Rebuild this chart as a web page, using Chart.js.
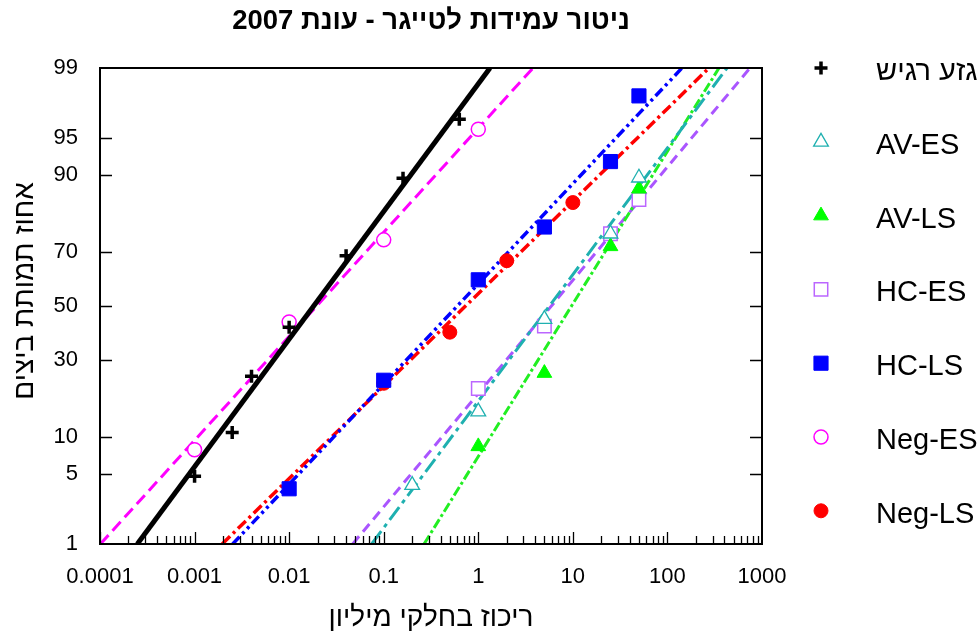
<!DOCTYPE html>
<html lang="he">
<head>
<meta charset="utf-8">
<title>ניטור עמידות לטייגר - עונת 2007</title>
<script src="https://cdn.jsdelivr.net/npm/chart.js@4/dist/chart.umd.min.js"></script>
<style>
  html, body { margin: 0; padding: 0; background: #fff; }
  canvas { display: block; }
</style>
</head>
<body>
<canvas id="chart" width="980" height="635"></canvas>
<script>
// ---- data: concentration (ppm) and egg mortality (%) per population ----
const seriesNames = ['גזע רגיש', 'AV-ES', 'AV-LS', 'HC-ES', 'HC-LS', 'Neg-ES', 'Neg-LS'];

const sensConc  = [0.001, 0.0025, 0.004, 0.01, 0.04, 0.16, 0.63];
const sensMort  = [4.8, 10.8, 24.6, 41.8, 68.8, 89.4, 96.6];
const avEsConc  = [0.2, 1, 5, 25, 50];
const avEsMort  = [4.0, 15.1, 44.9, 76, 89.5];
const avLsConc  = [1, 5, 25, 50];
const avLsMort  = [8.5, 25.6, 72, 87.4];
const hcEsConc  = [1, 5, 25, 50];
const hcEsMort  = [21, 42.2, 76, 85.1];
const hcLsConc  = [0.01, 0.1, 1, 5, 25, 50];
const hcLsMort  = [3.7, 23.4, 60.1, 78, 92.1, 98.0];
const negEsConc = [0.001, 0.01, 0.1, 1];
const negEsMort = [8.0, 43.8, 74.1, 95.8];
const negLsConc = [0.1, 0.5, 2, 10];
const negLsMort = [22.5, 39.9, 67.1, 84.4];

// fitted probit lines: concentration giving 1% and 99% mortality
const fitLc1  = [2.48e-4, 0.0746, 0.267, 0.047, 2.53e-3, 1.01e-4, 1.96e-3];
const fitLc99 = [1.33, 427, 351, 747, 142.6, 3.79, 275];

// axis ticks
const xTickValues = [0.0001, 0.001, 0.01, 0.1, 1, 10, 100, 1000];
const xTickLabels = ['0.0001', '0.001', '0.01', '0.1', '1', '10', '100', '1000'];
const yTickPercents = [1, 5, 10, 30, 50, 70, 90, 95, 99];
const yTickLabels = ['1', '5', '10', '30', '50', '70', '90', '95', '99'];

// ---- inverse normal CDF (probit scale) ----
function probit(p) {
  const a = [-3.969683028665376e+01, 2.209460984245205e+02, -2.759285104469687e+02, 1.383577518672690e+02, -3.066479806614716e+01, 2.506628277459239e+00];
  const b = [-5.447609879822406e+01, 1.615858368580409e+02, -1.556989798598866e+02, 6.680131188771972e+01, -1.328068155288572e+01];
  const c = [-7.784894002430293e-03, -3.223964580411365e-01, -2.400758277161838e+00, -2.549732539343734e+00, 4.374664141464968e+00, 2.938163982698783e+00];
  const d = [7.784695709041462e-03, 3.224671290700398e-01, 2.445134137142996e+00, 3.754408661907416e+00];
  const pl = 0.02425, ph = 1 - pl;
  let q, r;
  if (p < pl) {
    q = Math.sqrt(-2 * Math.log(p));
    return (((((c[0]*q+c[1])*q+c[2])*q+c[3])*q+c[4])*q+c[5]) / ((((d[0]*q+d[1])*q+d[2])*q+d[3])*q+1);
  }
  if (p <= ph) {
    q = p - 0.5; r = q * q;
    return (((((a[0]*r+a[1])*r+a[2])*r+a[3])*r+a[4])*r+a[5])*q / (((((b[0]*r+b[1])*r+b[2])*r+b[3])*r+b[4])*r+1);
  }
  q = Math.sqrt(-2 * Math.log(1 - p));
  return -(((((c[0]*q+c[1])*q+c[2])*q+c[3])*q+c[4])*q+c[5]) / ((((d[0]*q+d[1])*q+d[2])*q+d[3])*q+1);
}
const zOf = pct => probit(pct / 100);

const FONT = "'Liberation Sans', Arial, Helvetica, sans-serif";

// marker + line styling per population
const styles = [
  { color: '#000000', fill: '#000000', pointStyle: 'cross',    radius: 6.5, pBorder: 3.5, lineWidth: 5,   dash: [] },
  { color: '#1FB0B0', fill: '#FFFFFF', pointStyle: 'triangle', radius: 8.5, pBorder: 1.3, lineWidth: 3,   dash: [16, 5, 4, 5] },
  { color: '#22EE22', fill: '#00FF00', pointStyle: 'triangle', radius: 8.5, pBorder: 1,   lineWidth: 3,   dash: [10, 3, 3, 3], pointColor: '#00FF00' },
  { color: '#AA55FF', fill: '#FFFFFF', pointStyle: 'rect',     radius: 9.5, pBorder: 1.5, lineWidth: 3,   dash: [10, 6], pointColor: '#BB66FF' },
  { color: '#0000FF', fill: '#0000FF', pointStyle: 'rect',     radius: 10,  pBorder: 1,   lineWidth: 3.5, dash: [10, 4, 3, 4, 3, 4] },
  { color: '#FF00FF', fill: '#FFFFFF', pointStyle: 'circle',   radius: 7,   pBorder: 1.5, lineWidth: 3,   dash: [12, 6] },
  { color: '#FF0000', fill: '#FF0000', pointStyle: 'circle',   radius: 7,   pBorder: 1,   lineWidth: 3.5, dash: [11, 4, 3, 4] }
];

const concs = [sensConc, avEsConc, avLsConc, hcEsConc, hcLsConc, negEsConc, negLsConc];
const morts = [sensMort, avEsMort, avLsMort, hcEsMort, hcLsMort, negEsMort, negLsMort];

const datasets = [];
seriesNames.forEach((name, i) => {
  const st = styles[i];
  // fitted probit line
  datasets.push({
    label: name + ' fit',
    data: [{ x: fitLc1[i], y: zOf(1) }, { x: fitLc99[i], y: zOf(99) }],
    showLine: true,
    borderColor: st.color,
    borderWidth: st.lineWidth,
    borderDash: st.dash,
    pointRadius: 0,
    fill: false,
    order: 2,
    clip: 0
  });
  // observed points
  datasets.push({
    label: name,
    data: concs[i].map((c, k) => ({ x: c, y: zOf(morts[i][k]) })),
    showLine: false,
    pointStyle: st.pointStyle,
    pointRadius: st.radius,
    pointBorderWidth: st.pBorder,
    pointBorderColor: st.pointColor || st.color,
    pointBackgroundColor: st.fill,
    order: 1,
    clip: false
  });
});

// frame, inward tick marks, title, y-axis title and legend
const decorations = {
  id: 'decorations',
  afterDraw(chart) {
    const { ctx, chartArea: a, scales: { x, y } } = chart;
    ctx.save();
    ctx.strokeStyle = '#000';

    // y ticks on both sides
    ctx.lineWidth = 1.5;
    yTickPercents.slice(1, -1).forEach(p => {
      const py = Math.round(y.getPixelForValue(zOf(p))) + 0.5;
      ctx.beginPath();
      ctx.moveTo(a.left, py); ctx.lineTo(a.left + 12, py);
      ctx.moveTo(a.right, py); ctx.lineTo(a.right - 12, py);
      ctx.stroke();
    });

    // x ticks: decades and 2..9 minors along the bottom
    ctx.lineWidth = 1.3;
    for (let e = -4; e < 3; e++) {
      for (let m = 1; m <= 9; m++) {
        const v = m * Math.pow(10, e);
        const px = Math.round(x.getPixelForValue(v)) + 0.5;
        const len = m === 1 ? 12 : 8;
        ctx.beginPath();
        ctx.moveTo(px, a.bottom); ctx.lineTo(px, a.bottom - len);
        ctx.stroke();
      }
    }

    // plot frame
    ctx.lineWidth = 2;
    ctx.strokeRect(a.left, a.top, a.right - a.left, a.bottom - a.top);

    // chart title
    ctx.fillStyle = '#000';
    ctx.font = "bold 27.5px " + FONT;
    ctx.textAlign = 'center';
    ctx.textBaseline = 'middle';
    ctx.fillText('ניטור עמידות לטייגר - עונת 2007', (a.left + a.right) / 2, 21);

    // y-axis title
    ctx.save();
    ctx.translate(25, 291);
    ctx.rotate(-Math.PI / 2);
    ctx.font = "28px " + FONT;
    ctx.fillText('אחוז תמותת ביצים', 0, 0);
    ctx.restore();

    // legend
    const lx = 821, ly0 = 68, step = 73.8;
    seriesNames.forEach((name, i) => {
      const st = styles[i];
      const cy = ly0 + i * step;
      ctx.save();
      ctx.strokeStyle = st.pointColor || st.color;
      ctx.fillStyle = st.fill;
      ctx.lineWidth = st.pBorder;
      Chart.helpers.drawPoint(ctx, {
        pointStyle: st.pointStyle, radius: st.radius, borderWidth: st.pBorder, rotation: 0
      }, lx, cy);
      ctx.restore();
      ctx.fillStyle = '#000';
      ctx.font = "29px " + FONT;
      ctx.textAlign = 'left';
      ctx.textBaseline = 'middle';
      ctx.fillText(name, 876, cy + 4);
    });
    ctx.restore();
  }
};

new Chart(document.getElementById('chart'), {
  type: 'scatter',
  data: { datasets },
  options: {
    responsive: false,
    animation: false,
    events: [],
    layout: { padding: { top: 68, right: 218, left: 0, bottom: 0 } },
    plugins: { legend: { display: false }, tooltip: { enabled: false }, title: { display: false } },
    scales: {
      x: {
        type: 'logarithmic',
        min: 0.0001,
        max: 1000,
        afterBuildTicks: s => { s.ticks = xTickValues.map(v => ({ value: v })); },
        afterFit: s => { s.height = 91; },
        grid: { display: false, drawTicks: false },
        border: { display: false },
        ticks: {
          autoSkip: false, maxRotation: 0, minRotation: 0, padding: 20, color: '#000',
          font: { family: FONT, size: 22 },
          callback: (v, i) => xTickLabels[i]
        },
        title: {
          display: true, text: 'ריכוז בחלקי מיליון', color: '#000',
          font: { family: FONT, size: 28 }, padding: { top: 0, bottom: 0 }
        }
      },
      y: {
        type: 'linear',
        min: zOf(1),
        max: zOf(99),
        afterBuildTicks: s => { s.ticks = yTickPercents.map(p => ({ value: zOf(p) })); },
        afterFit: s => { s.width = 100; },
        grid: { display: false, drawTicks: false },
        border: { display: false },
        ticks: {
          autoSkip: false, padding: 22, color: '#000',
          font: { family: FONT, size: 22 },
          callback: (v, i) => yTickLabels[i]
        }
      }
    }
  },
  plugins: [decorations]
});
</script>
</body>
</html>
